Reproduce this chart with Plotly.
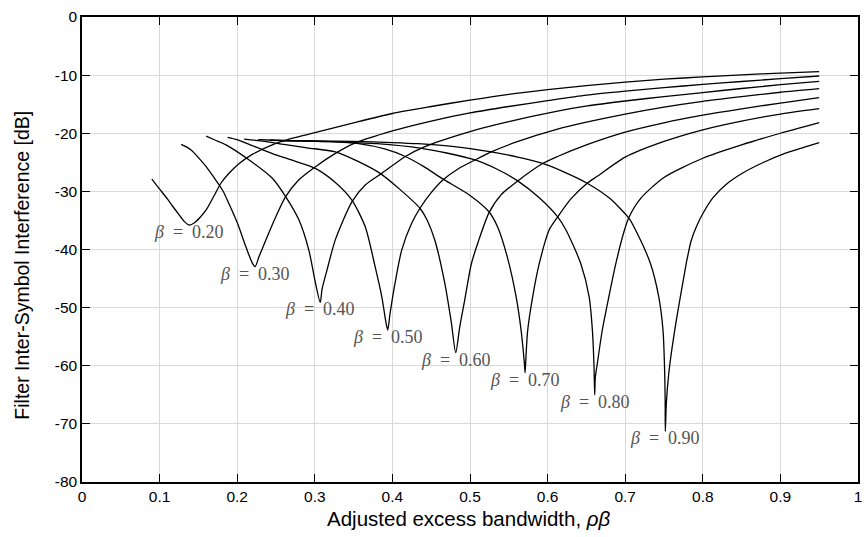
import plotly.graph_objects as go

# ---- data ----
betas = ["0.20", "0.30", "0.40", "0.50", "0.60", "0.70", "0.80", "0.90"]

x_b20 = [0.090, 0.100, 0.110, 0.117, 0.125, 0.132, 0.1385, 0.145, 0.152, 0.160, 0.170, 0.179, 0.190,
         0.2026, 0.220, 0.2453, 0.270, 0.300, 0.350, 0.400, 0.450, 0.500, 0.550, 0.600, 0.650, 0.700,
         0.750, 0.800, 0.850, 0.900, 0.950]
y_b20 = [-27.9, -29.6, -31.3, -32.6, -34.0, -35.2, -35.8, -35.4, -34.5, -33.2, -30.8, -28.6, -26.8,
         -25.2, -23.6, -22.0, -20.9, -19.9, -18.2, -16.6, -15.4, -14.3, -13.3, -12.5, -11.8, -11.2,
         -10.7, -10.3, -9.95, -9.65, -9.4]

x_b30 = [0.1278, 0.134, 0.1406, 0.150, 0.160, 0.170, 0.1812, 0.190, 0.2004, 0.2111, 0.2197, 0.2231,
         0.2282, 0.2368, 0.2496, 0.2624, 0.2795, 0.3009, 0.325, 0.350, 0.400, 0.450, 0.500, 0.550,
         0.600, 0.650, 0.700, 0.750, 0.800, 0.850, 0.900, 0.950]
y_b30 = [-21.9, -22.3, -22.9, -24.2, -25.75, -27.6, -29.8, -32.3, -35.5, -39.5, -42.4, -42.96,
         -41.2, -38.4, -34.4, -30.9, -28.0, -25.75, -23.6, -21.8, -19.6, -17.9, -16.5, -15.4,
         -14.4, -13.45, -12.75, -12.15, -11.6, -11.1, -10.6, -10.15]

x_b40 = [0.160, 0.172, 0.1855, 0.2154, 0.2453, 0.2624, 0.2795, 0.2923, 0.3009, 0.307,
         0.3094, 0.3158, 0.3265, 0.3478, 0.365, 0.3863, 0.4167, 0.4419, 0.500, 0.550, 0.6128,
         0.651, 0.700, 0.750, 0.800, 0.850, 0.900, 0.950]
y_b40 = [-20.5, -21.2, -22.0, -24.6, -27.75, -30.9, -34.9, -40.1, -45.8, -49.1,
         -46.8, -43.5, -38.3, -31.8, -28.9, -26.9, -24.0, -22.3, -19.7, -18.0, -16.2,
         -15.3, -14.45, -13.7, -13.0, -12.3, -11.65, -11.06]

x_b50 = [0.1876, 0.200, 0.2154, 0.2453, 0.270, 0.300, 0.325, 0.3478, 0.365, 0.3778, 0.3863, 0.3919,
         0.394, 0.397, 0.4034, 0.412, 0.4248, 0.4355, 0.450, 0.4654, 0.485, 0.5064, 0.5274, 0.560,
         0.6128, 0.650, 0.700, 0.750, 0.800, 0.850, 0.900, 0.950]
y_b50 = [-20.7, -21.1, -21.9, -23.5, -24.6, -26.0, -28.3, -31.5, -36.1, -43.0, -48.1, -52.7,
         -53.85, -51.0, -45.8, -40.1, -35.5, -32.9, -30.2, -28.0, -26.1, -24.6, -23.2, -21.5,
         -19.3, -18.1, -16.7, -15.5, -14.5, -13.7, -12.95, -12.33]

x_b60 = [0.209, 0.230, 0.260, 0.290, 0.3265, 0.355, 0.3842, 0.410, 0.4355, 0.4450, 0.4547, 0.4675,
         0.4761, 0.4816, 0.4868, 0.4932, 0.5017, 0.5103, 0.5244, 0.540, 0.5615, 0.5936, 0.6128,
         0.650, 0.700, 0.750, 0.800, 0.850, 0.900, 0.950]
y_b60 = [-21.0, -21.3, -21.9, -22.5, -23.2, -24.8, -26.9, -29.7, -32.9, -35.0, -38.4, -45.8,
         -52.7, -57.75, -53.3, -48.7, -42.5, -38.8, -33.7, -30.6, -28.2, -25.2, -24.0,
         -22.0, -19.8, -18.2, -16.9, -15.8, -14.8, -13.88]

x_b70 = [0.227, 0.250, 0.280, 0.320, 0.3564, 0.390, 0.4167, 0.440, 0.4654, 0.500, 0.5244, 0.5359,
         0.5487, 0.5594, 0.5658, 0.5701, 0.571, 0.5725, 0.5744, 0.5808, 0.5893, 0.6021, 0.613,
         0.630, 0.651, 0.664, 0.700, 0.750, 0.800, 0.850, 0.900, 0.950]
y_b70 = [-21.1, -21.2, -21.3, -21.45, -21.8, -22.7, -24.0, -25.7, -27.9, -30.7, -33.5, -36.2,
         -41.6, -48.1, -53.85, -59.6, -61.2, -57.5, -53.85, -48.1, -42.4, -36.6, -34.4,
         -31.3, -28.6, -27.4, -24.1, -21.4, -19.4, -17.9, -16.7, -15.77]

x_b80 = [0.242, 0.280, 0.330, 0.380, 0.4376, 0.470, 0.5064, 0.535, 0.5615, 0.590, 0.613, 0.6235,
         0.6427, 0.6535, 0.6577, 0.6598, 0.6607, 0.6615, 0.6641, 0.6705, 0.679, 0.6876, 0.6983,
         0.7047, 0.720, 0.750, 0.800, 0.850, 0.900, 0.950]
y_b80 = [-21.2, -21.3, -21.5, -21.8, -22.6, -23.4, -24.6, -26.2, -28.2, -31.2, -34.4, -36.6,
         -42.4, -48.1, -53.85, -60.0, -65.0, -62.0, -59.6, -53.85, -48.1, -42.6, -37.0,
         -34.5, -31.2, -27.6, -24.3, -22.0, -20.0, -18.18]

x_b90 = [0.255, 0.300, 0.350, 0.400, 0.433, 0.480, 0.5274, 0.5615, 0.5936, 0.620, 0.651, 0.680,
         0.7047, 0.7132, 0.7325, 0.7432, 0.7487, 0.7508, 0.7515, 0.7517, 0.7530, 0.7560, 0.7603,
         0.7667, 0.7752, 0.7800, 0.7850, 0.7920, 0.801, 0.8137, 0.830, 0.852, 0.880, 0.9034,
         0.930, 0.950]
y_b90 = [-21.3, -21.3, -21.4, -21.6, -21.8, -22.3, -23.2, -24.1, -25.2, -26.6, -28.6, -31.2,
         -34.6, -36.6, -42.4, -48.1, -53.85, -60.7, -66.0, -71.3, -66.5, -61.5, -57.0,
         -51.5, -45.0, -41.5, -38.5, -36.0, -33.6, -31.0, -28.8, -26.8, -24.9, -23.6,
         -22.45, -21.62]

x_series = [x_b20, x_b30, x_b40, x_b50, x_b60, x_b70, x_b80, x_b90]
y_series = [y_b20, y_b30, y_b40, y_b50, y_b60, y_b70, y_b80, y_b90]

x_ticks = [0, 0.1, 0.2, 0.3, 0.4, 0.5, 0.6, 0.7, 0.8, 0.9, 1.0]
x_ticktext = ["0", "0.1", "0.2", "0.3", "0.4", "0.5", "0.6", "0.7", "0.8", "0.9", "1"]
y_ticks = [0, -10, -20, -30, -40, -50, -60, -70, -80]
y_ticktext = ["0", "-10", "-20", "-30", "-40", "-50", "-60", "-70", "-80"]

x_title = "Adjusted excess bandwidth, <i>ρβ</i>"
y_title = "Filter Inter-Symbol Interference [dB]"

# ---- figure ----
fig = go.Figure()
annotations = []
for b, xs, ys in zip(betas, x_series, y_series):
    fig.add_trace(go.Scatter(x=xs, y=ys, mode="lines",
                             line=dict(color="black", width=1.3, shape="spline", smoothing=0.7),
                             showlegend=False, hoverinfo="skip"))
    i_min = ys.index(min(ys))
    annotations.append(dict(
        x=xs[i_min], y=ys[i_min], xref="x", yref="y",
        text="<i>β</i>\u2002=\u2002" + b,
        showarrow=False, xanchor="center", yanchor="middle", yshift=-7,
        font=dict(family="Liberation Serif, DejaVu Serif, serif", size=18, color="#555555")))

sans = "Liberation Sans, Arial, sans-serif"
annotations.append(dict(text=x_title, xref="paper", yref="paper", x=0.4987, y=-0.079,
                        xanchor="center", yanchor="middle", showarrow=False,
                        font=dict(family=sans, size=20.5, color="black")))
annotations.append(dict(text=y_title, xref="paper", yref="paper", x=-0.0769, y=0.466,
                        xanchor="center", yanchor="middle", showarrow=False, textangle=-90,
                        font=dict(family=sans, size=19.5, color="black")))

axis_common = dict(
    showline=True, linecolor="black", linewidth=1.5, mirror="ticks",
    ticks="inside", ticklen=8, tickcolor="black", tickwidth=1,
    showgrid=True, gridcolor="#d9d9d9", gridwidth=1, zeroline=False,
    tickfont=dict(family=sans, size=15.5, color="black"),
)

fig.update_layout(
    width=867, height=537,
    margin=dict(l=82, r=5, t=17, b=55),
    paper_bgcolor="white", plot_bgcolor="white",
    annotations=annotations,
    xaxis=dict(range=[0, 1], tickvals=x_ticks, ticktext=x_ticktext, **axis_common),
    yaxis=dict(range=[-80, 0], tickvals=y_ticks, ticktext=y_ticktext, **axis_common),
)

fig.write_html("out.html")
